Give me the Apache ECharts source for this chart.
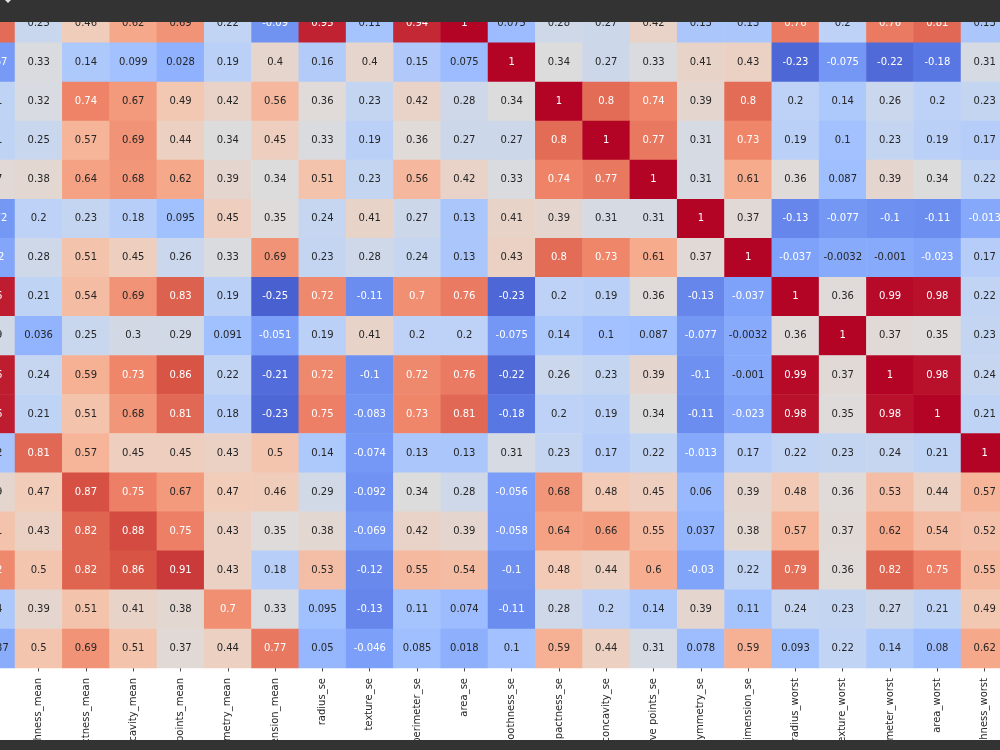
<!DOCTYPE html>
<html>
<head>
<meta charset="utf-8">
<script src="https://cdn.jsdelivr.net/npm/echarts@6/dist/echarts.min.js"></script>
<style>
  html, body { margin: 0; padding: 0; background: #fff; }
  #chart { width: 1000px; height: 750px; }
</style>
</head>
<body>
<div id="chart"></div>
<script>
// columns visible in the crop (area_mean only partly)
var cols = ['area_mean', 'smoothness_mean', 'compactness_mean', 'concavity_mean', 'concave points_mean',
  'symmetry_mean', 'fractal_dimension_mean', 'radius_se', 'texture_se', 'perimeter_se', 'area_se',
  'smoothness_se', 'compactness_se', 'concavity_se', 'concave points_se', 'symmetry_se',
  'fractal_dimension_se', 'radius_worst', 'texture_worst', 'perimeter_worst', 'area_worst', 'smoothness_worst'];

// rows visible in the crop (area_se only partly)
var rows = ['area_se', 'smoothness_se', 'compactness_se', 'concavity_se', 'concave points_se', 'symmetry_se',
  'fractal_dimension_se', 'radius_worst', 'texture_worst', 'perimeter_worst', 'area_worst',
  'smoothness_worst', 'compactness_worst', 'concavity_worst', 'concave points_worst', 'symmetry_worst',
  'fractal_dimension_worst'];

// correlation values, one array per row, same order as cols
var area_se                 = [0.8, 0.25, 0.46, 0.62, 0.69, 0.22, -0.09, 0.95, 0.11, 0.94, 1, 0.075, 0.28, 0.27, 0.42, 0.13, 0.13, 0.76, 0.2, 0.76, 0.81, 0.13];
var smoothness_se           = [-0.067, 0.33, 0.14, 0.099, 0.028, 0.19, 0.4, 0.16, 0.4, 0.15, 0.075, 1, 0.34, 0.27, 0.33, 0.41, 0.43, -0.23, -0.075, -0.22, -0.18, 0.31];
var compactness_se          = [0.21, 0.32, 0.74, 0.67, 0.49, 0.42, 0.56, 0.36, 0.23, 0.42, 0.28, 0.34, 1, 0.8, 0.74, 0.39, 0.8, 0.2, 0.14, 0.26, 0.2, 0.23];
var concavity_se            = [0.21, 0.25, 0.57, 0.69, 0.44, 0.34, 0.45, 0.33, 0.19, 0.36, 0.27, 0.27, 0.8, 1, 0.77, 0.31, 0.73, 0.19, 0.1, 0.23, 0.19, 0.17];
var concave_points_se       = [0.37, 0.38, 0.64, 0.68, 0.62, 0.39, 0.34, 0.51, 0.23, 0.56, 0.42, 0.33, 0.74, 0.77, 1, 0.31, 0.61, 0.36, 0.087, 0.39, 0.34, 0.22];
var symmetry_se             = [-0.072, 0.2, 0.23, 0.18, 0.095, 0.45, 0.35, 0.24, 0.41, 0.27, 0.13, 0.41, 0.39, 0.31, 0.31, 1, 0.37, -0.13, -0.077, -0.1, -0.11, -0.013];
var fractal_dimension_se    = [-0.02, 0.28, 0.51, 0.45, 0.26, 0.33, 0.69, 0.23, 0.28, 0.24, 0.13, 0.43, 0.8, 0.73, 0.61, 0.37, 1, -0.037, -0.0032, -0.001, -0.023, 0.17];
var radius_worst            = [0.96, 0.21, 0.54, 0.69, 0.83, 0.19, -0.25, 0.72, -0.11, 0.7, 0.76, -0.23, 0.2, 0.19, 0.36, -0.13, -0.037, 1, 0.36, 0.99, 0.98, 0.22];
var texture_worst           = [0.29, 0.036, 0.25, 0.3, 0.29, 0.091, -0.051, 0.19, 0.41, 0.2, 0.2, -0.075, 0.14, 0.1, 0.087, -0.077, -0.0032, 0.36, 1, 0.37, 0.35, 0.23];
var perimeter_worst         = [0.96, 0.24, 0.59, 0.73, 0.86, 0.22, -0.21, 0.72, -0.1, 0.72, 0.76, -0.22, 0.26, 0.23, 0.39, -0.1, -0.001, 0.99, 0.37, 1, 0.98, 0.24];
var area_worst              = [0.96, 0.21, 0.51, 0.68, 0.81, 0.18, -0.23, 0.75, -0.083, 0.73, 0.81, -0.18, 0.2, 0.19, 0.34, -0.11, -0.023, 0.98, 0.35, 0.98, 1, 0.21];
var smoothness_worst        = [0.12, 0.81, 0.57, 0.45, 0.45, 0.43, 0.5, 0.14, -0.074, 0.13, 0.13, 0.31, 0.23, 0.17, 0.22, -0.013, 0.17, 0.22, 0.23, 0.24, 0.21, 1];
var compactness_worst       = [0.39, 0.47, 0.87, 0.75, 0.67, 0.47, 0.46, 0.29, -0.092, 0.34, 0.28, -0.056, 0.68, 0.48, 0.45, 0.06, 0.39, 0.48, 0.36, 0.53, 0.44, 0.57];
var concavity_worst         = [0.51, 0.43, 0.82, 0.88, 0.75, 0.43, 0.35, 0.38, -0.069, 0.42, 0.39, -0.058, 0.64, 0.66, 0.55, 0.037, 0.38, 0.57, 0.37, 0.62, 0.54, 0.52];
var concave_points_worst    = [0.72, 0.5, 0.82, 0.86, 0.91, 0.43, 0.18, 0.53, -0.12, 0.55, 0.54, -0.1, 0.48, 0.44, 0.6, -0.03, 0.22, 0.79, 0.36, 0.82, 0.75, 0.55];
var symmetry_worst          = [0.14, 0.39, 0.51, 0.41, 0.38, 0.7, 0.33, 0.095, -0.13, 0.11, 0.074, -0.11, 0.28, 0.2, 0.14, 0.39, 0.11, 0.24, 0.23, 0.27, 0.21, 0.49];
var fractal_dimension_worst = [0.0037, 0.5, 0.69, 0.51, 0.37, 0.44, 0.77, 0.05, -0.046, 0.085, 0.018, 0.1, 0.59, 0.44, 0.31, 0.078, 0.59, 0.093, 0.22, 0.14, 0.08, 0.62];

var matrix = [area_se, smoothness_se, compactness_se, concavity_se, concave_points_se, symmetry_se,
  fractal_dimension_se, radius_worst, texture_worst, perimeter_worst, area_worst, smoothness_worst,
  compactness_worst, concavity_worst, concave_points_worst, symmetry_worst, fractal_dimension_worst];

// colour scale runs over the whole matrix range (min corr of the full table)
var vMin = -0.3117, vMax = 1;
var coolwarm = ['#3b4cc0', '#5977e3', '#7b9ff9', '#9ebeff', '#c0d4f5', '#dddcdc',
  '#f2cbb7', '#f7ac8e', '#ee8468', '#d65244', '#b40426'];

var cells = [];
matrix.forEach(function (r, yi) {
  r.forEach(function (v, xi) {
    var light = (v <= -0.008 || v >= 0.695);   // dark cells get white text
    cells.push({ value: [xi, yi, v], label: { color: light ? '#ffffff' : '#262626' } });
  });
});

var chart = echarts.init(document.getElementById('chart'), null, { renderer: 'canvas' });
chart.setOption({
  backgroundColor: '#ffffff',
  animation: false,
  textStyle: { fontFamily: 'DejaVu Sans' },
  grid: { left: -32.3, top: 3.8, width: 1040.6, height: 664.2, containLabel: false, outerBoundsMode: 'none' },
  xAxis: {
    type: 'category',
    data: cols,
    axisLine: { show: false },
    axisTick: { show: true, alignWithLabel: true, interval: 0, length: 3.5, lineStyle: { color: '#262626', width: 0.8 } },
    axisLabel: { interval: 0, rotate: 90, margin: 10, fontSize: 10, color: '#262626', fontFamily: 'DejaVu Sans' },
    splitLine: { show: false }
  },
  yAxis: {
    type: 'category',
    data: rows,
    inverse: true,
    show: false
  },
  visualMap: {
    show: false,
    type: 'continuous',
    min: vMin,
    max: vMax,
    dimension: 2,
    inRange: { color: coolwarm }
  },
  series: [{
    type: 'heatmap',
    data: cells,
    label: {
      show: true,
      fontSize: 10,
      fontFamily: 'DejaVu Sans',
      formatter: function (p) { return String(p.value[2]); }
    },
    itemStyle: { borderWidth: 0 },
    emphasis: { disabled: true }
  }],
  graphic: [
    { type: 'rect', z: 100, shape: { x: 0, y: 0, width: 1000, height: 22 }, style: { fill: '#333333' } },
    { type: 'rect', z: 100, shape: { x: 0, y: 740, width: 1000, height: 10 }, style: { fill: '#333333' } },
    { type: 'polygon', z: 101, shape: { points: [[5, 0], [11, 0], [8, 3]] }, style: { fill: '#e6e6e6' } }
  ]
});
</script>
</body>
</html>
